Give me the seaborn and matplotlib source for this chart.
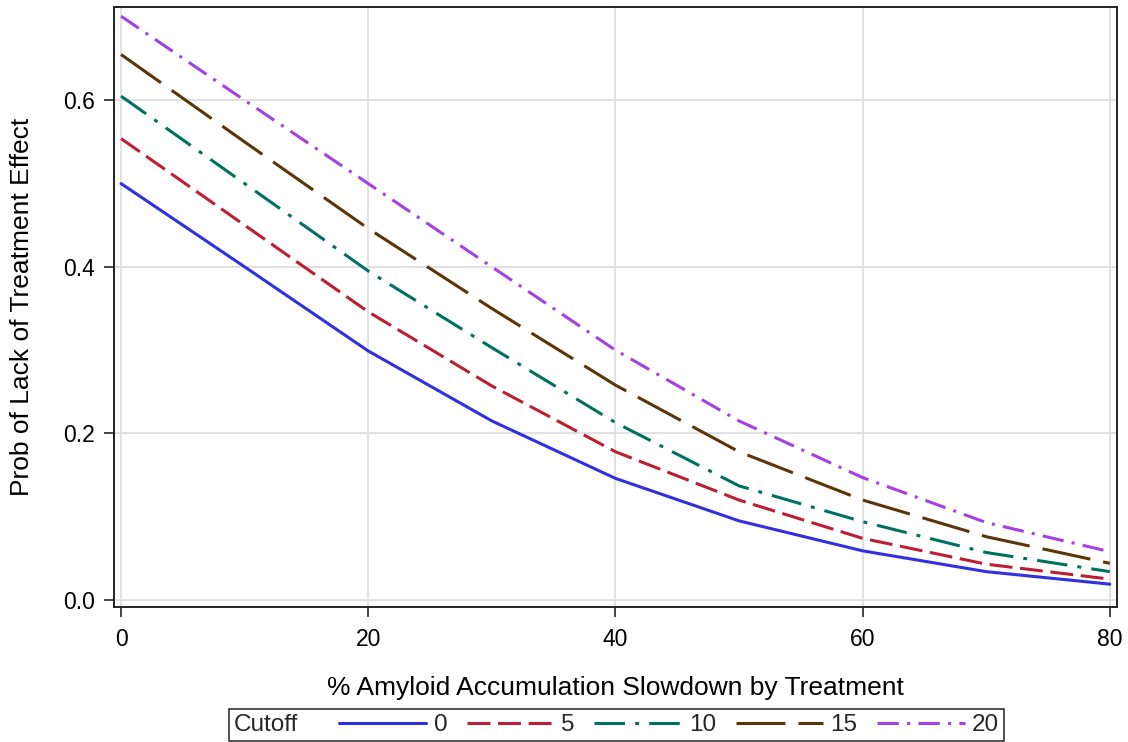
import numpy as np
import pandas as pd
import matplotlib
matplotlib.use("Agg")
import matplotlib.pyplot as plt
import seaborn as sns
from matplotlib.offsetbox import HPacker

# ---- data ----
slowdown = [0, 10, 20, 30, 40, 50, 60, 70, 80]
cutoffs = ["0", "5", "10", "15", "20"]
prob_c0 = [0.500, 0.400, 0.299, 0.215, 0.146, 0.095, 0.059, 0.034, 0.019]
prob_c5 = [0.554, 0.450, 0.346, 0.257, 0.178, 0.120, 0.074, 0.043, 0.025]
prob_c10 = [0.605, 0.500, 0.395, 0.303, 0.213, 0.137, 0.094, 0.057, 0.034]
prob_c15 = [0.655, 0.550, 0.446, 0.350, 0.258, 0.178, 0.120, 0.076, 0.044]
prob_c20 = [0.701, 0.600, 0.500, 0.400, 0.300, 0.215, 0.147, 0.093, 0.058]

series = [prob_c0, prob_c5, prob_c10, prob_c15, prob_c20]
df = pd.DataFrame({
    "x": slowdown * len(cutoffs),
    "y": sum(series, []),
    "Cutoff": sum([[c] * len(slowdown) for c in cutoffs], []),
})

sns.set_theme(style="whitegrid")
plt.rcParams["font.family"] = ["Liberation Sans", "DejaVu Sans"]

colors = ["#3030E0", "#BE1E32", "#00715F", "#5A3508", "#A540E6"]
dashes = {
    "0": "",
    "5": (7.5, 2.5),
    "10": (10, 3.3, 1.3, 3.3),
    "15": (16, 4.3),
    "20": (7, 2.7, 1.0, 2.7),
}

fig = plt.figure(figsize=(11.28, 7.42), dpi=100)
ax = fig.add_axes([0.1011, 0.182, 0.8891, 0.8085])

sns.lineplot(data=df, x="x", y="y", hue="Cutoff", style="Cutoff",
             palette=colors, dashes=dashes, linewidth=2.2, ax=ax,
             legend=True)

ax.set_xlim(-0.57, 80.58)
ax.set_ylim(-0.0084, 0.712)
ax.set_xticks([0, 20, 40, 60, 80])
ax.set_yticks([0.0, 0.2, 0.4, 0.6])
ax.set_yticklabels(["0.0", "0.2", "0.4", "0.6"])
ax.grid(True, color="#DEDEDE", linewidth=1.3)
ax.set_facecolor("white")
for s in ax.spines.values():
    s.set_visible(True)
    s.set_color("#222222")
    s.set_linewidth(1.4)
ax.tick_params(axis="both", which="both", direction="out", length=7, width=1.2,
               color="#222222", labelsize=16.5, labelcolor="black",
               bottom=True, left=True, top=False, right=False)
ax.tick_params(axis="x", pad=8)
ax.tick_params(axis="y", pad=7)
ax.set_xlabel("% Amyloid Accumulation Slowdown by Treatment", fontsize=19,
              color="black", labelpad=18)
ax.set_ylabel("Prob of Lack of Treatment Effect", fontsize=19,
              color="black", labelpad=21)

handles, labels = ax.get_legend_handles_labels()
ax.get_legend().remove()
leg = fig.legend(handles, labels, title="Cutoff", ncol=5, loc="lower center",
                 bbox_to_anchor=(0.5466, 0.0015), frameon=True, fancybox=False,
                 edgecolor="black", fontsize=17.5, title_fontsize=17.5,
                 handlelength=3.6, handletextpad=0.3, columnspacing=0.8,
                 borderpad=0.15, borderaxespad=0.0)
leg.get_frame().set_linewidth(1.2)
for h in leg.legend_handles:
    h.set_linewidth(2.2)

# put the title inline to the left of the entries
box = leg._legend_box
children = box.get_children()
newbox = HPacker(pad=3.5, sep=29, align="center", children=children)
newbox.set_figure(fig)
newbox.set_offset(leg._findoffset)
leg._legend_box = newbox

fig.savefig("out.png", dpi=100, facecolor="white")
